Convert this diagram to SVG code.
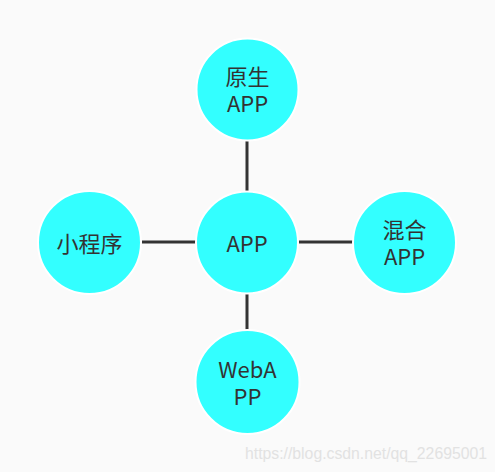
<svg xmlns="http://www.w3.org/2000/svg" width="495" height="472" viewBox="0 0 495 472">
<style>
.node circle{fill:#33ffff;stroke:#ffffff;stroke-width:2}
.node text{font-family:"Noto Sans CJK SC","Open Sans",sans-serif;font-size:22px;fill:#333333;text-anchor:middle}
.conn line{stroke:#333333;stroke-width:3}
.wm{font-family:"Liberation Sans",Arial,sans-serif;font-size:16px;fill:#e2e2e2}
</style>
<rect width="495" height="472" fill="#fafafa"/>
<g class="conn">
<line x1="247" y1="141" x2="247" y2="191"/>
<line x1="142" y1="242" x2="196" y2="242"/>
<line x1="299" y1="242" x2="353" y2="242"/>
<line x1="247" y1="294" x2="247" y2="331"/>
</g>
<g id="native" class="node"><circle cx="247.5" cy="89.5" r="51"/><text x="247.5" y="85">原生</text><text x="247.5" y="112">APP</text></g>
<g id="app" class="node"><circle cx="247" cy="242.5" r="51"/><text x="247" y="252">APP</text></g>
<g id="mini" class="node"><circle cx="89.5" cy="242.5" r="51.5"/><text x="89.5" y="252">小程序</text></g>
<g id="hybrid" class="node"><circle cx="404.5" cy="242.5" r="51.5"/><text x="404.5" y="238">混合</text><text x="404.5" y="265">APP</text></g>
<g id="webapp" class="node"><circle cx="247.5" cy="382" r="52"/><text x="247.5" y="378">WebA</text><text x="247.5" y="405">PP</text></g>
<text class="wm" x="245" y="459" textLength="242" lengthAdjust="spacingAndGlyphs">https://blog.csdn.net/qq_22695001</text>
</svg>
